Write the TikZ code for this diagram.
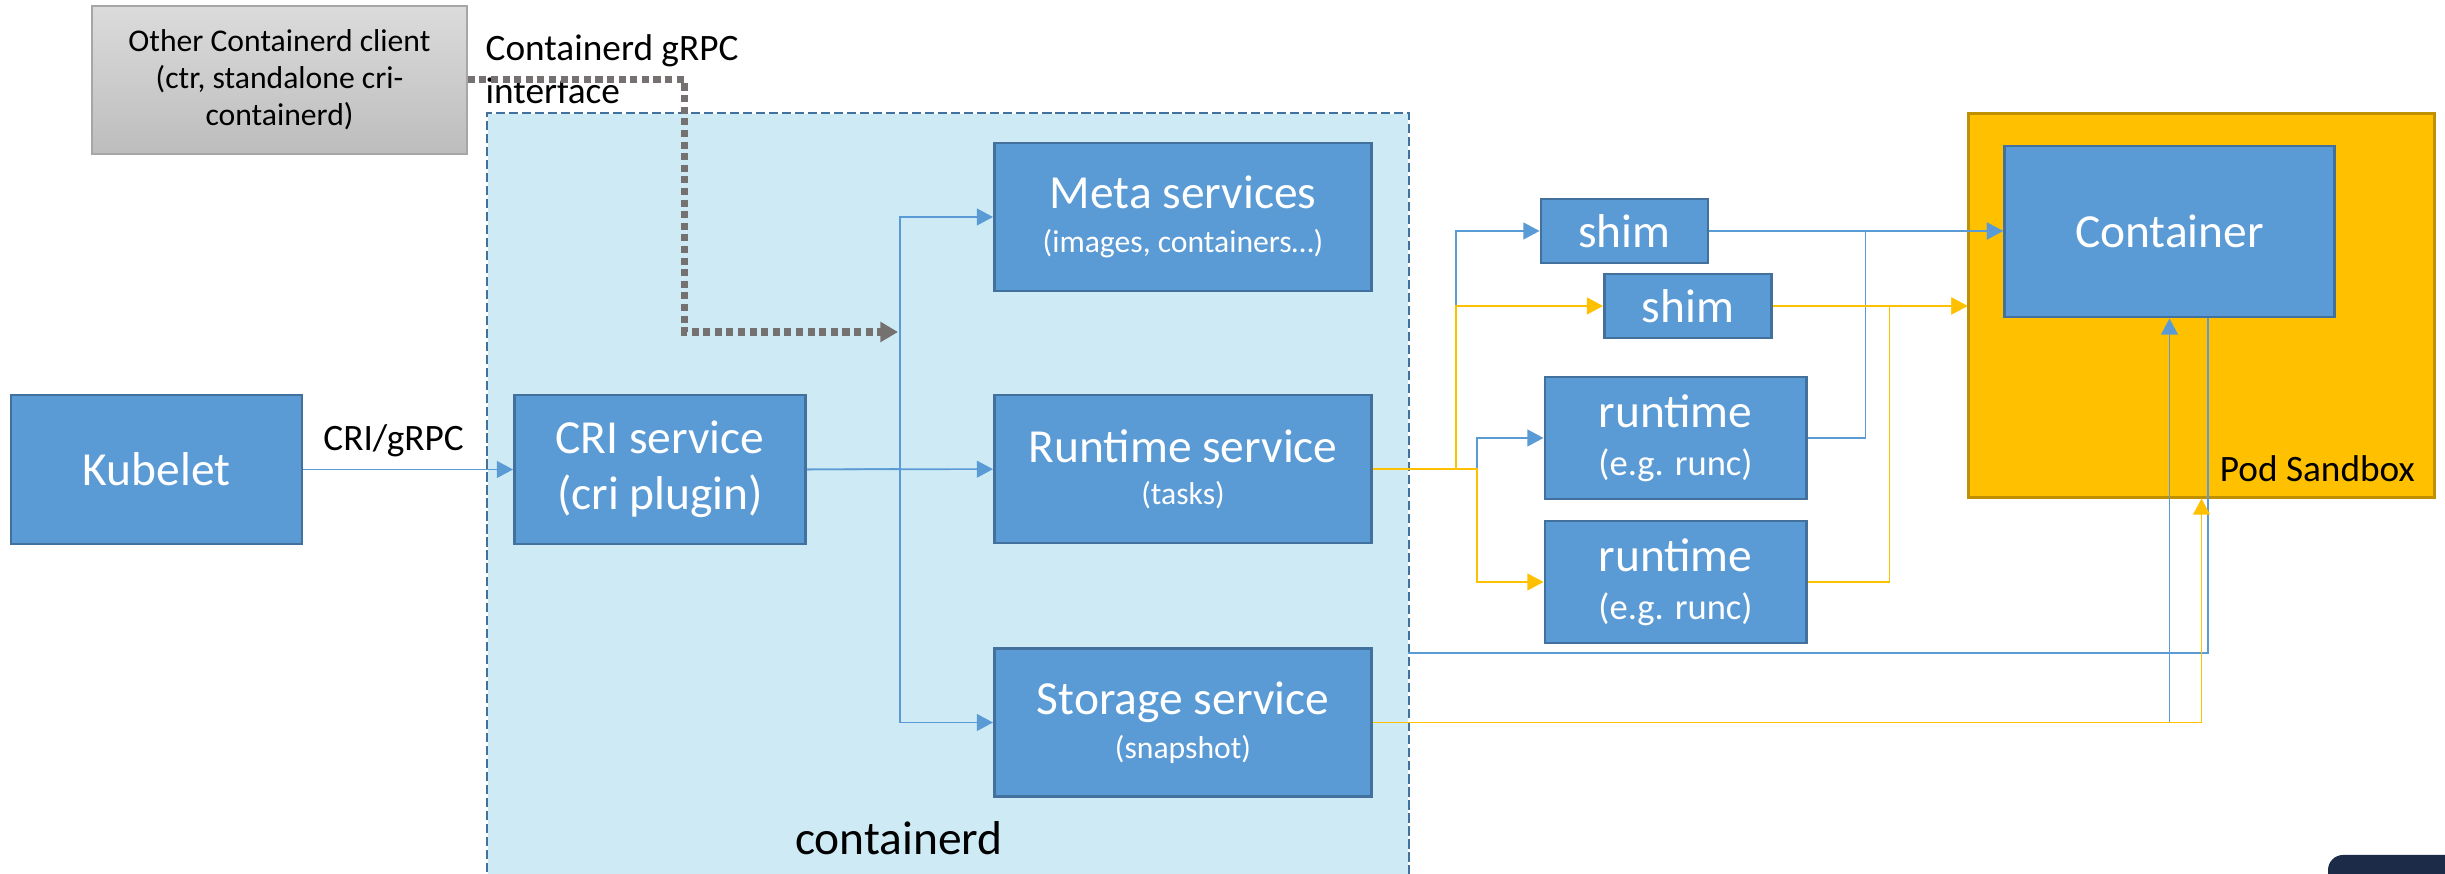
\documentclass[tikz,border=0pt]{standalone}
\usepackage{fontspec}
\setmainfont{Carlito}
\usepackage{tikz}
\usetikzlibrary{arrows.meta, calc, positioning}
\definecolor{boxblue}{HTML}{5B9BD5}
\definecolor{boxedge}{HTML}{41719C}
\definecolor{linkblue}{HTML}{5B9BD5}
\definecolor{linkyellow}{HTML}{FFC000}
\definecolor{sandboxedge}{HTML}{BF9000}
\definecolor{containerdfill}{RGB}{206,234,245}
\definecolor{grpcgray}{HTML}{767171}
\definecolor{cornerdark}{HTML}{1B2B48}
\newcommand{\boxfont}{\fontsize{13.5}{16}\selectfont}
\newcommand{\subfont}{\fontsize{9}{11}\selectfont}
\newcommand{\runcfont}{\fontsize{10.4}{12}\selectfont}
\newcommand{\notefont}{\fontsize{10.6}{12.5}\selectfont}
\newcommand{\clientfont}{\fontsize{9}{10.5}\selectfont}
\tikzstyle{servicebox} = [rectangle, draw=boxedge, fill=boxblue, line width=0.8pt, text=white, align=center, font=\boxfont, inner sep=0pt]
\tikzstyle{corebox} = [servicebox, minimum width=3.77cm, minimum height=1.48cm]
\tikzstyle{edgebox} = [servicebox, minimum width=2.91cm, minimum height=1.49cm]
\tikzstyle{shimbox} = [servicebox, minimum width=1.67cm, minimum height=0.64cm]
\tikzstyle{runcbox} = [servicebox, minimum width=2.61cm, minimum height=1.22cm]
\tikzstyle{sandbox} = [rectangle, draw=sandboxedge, fill=linkyellow, line width=0.8pt]
\tikzstyle{clientbox} = [rectangle, draw=black!35, top color=black!14, bottom color=black!26, line width=0.4pt, align=center, font=\clientfont]
\tikzstyle{bluearrow} = [-{Triangle[length=4.6pt,width=4.8pt]}, draw=linkblue, line width=0.45pt]
\tikzstyle{yellowarrow} = [-{Triangle[length=4.6pt,width=4.8pt]}, draw=linkyellow, line width=0.45pt]
\tikzstyle{blueline} = [draw=linkblue, line width=0.45pt]
\tikzstyle{grpcarrow} = [-{Triangle[length=5pt,width=5.5pt]}, draw=grpcgray, line width=2pt, dash pattern=on 2pt off 1.3pt]

\begin{document}
\begin{tikzpicture}[x=0.01cm, y=-0.01cm]
	\useasboundingbox (0,0) rectangle (2445,874);
	\clip (0,0) rectangle (2445,874);
	% containerd area, open at the bottom
	\node (containerd_box) [rectangle, fill=containerdfill, minimum width=9.2cm, minimum height=7.7cm, inner sep=0pt] at (948,499) {};
	\draw [draw=boxedge, line width=0.7pt, dash pattern=on 2.6pt off 1.1pt] (containerd_box.south west) |- (containerd_box.north east) -- (containerd_box.south east);
	\node (containerd_label) [anchor=base, font=\boxfont, inner sep=0pt] at (899,855) {containerd};
	\node (pod_sandbox) [sandbox, minimum width=4.65cm, minimum height=3.83cm] at (2201.5,305.5) {};
	\node (sandbox_label) [anchor=base east, font=\notefont, inner sep=0pt] at ([xshift=-0.2cm, yshift=0.17cm]pod_sandbox.south east) {Pod Sandbox};

	\node (other_client) [clientbox, minimum width=3.75cm, minimum height=1.48cm] at (279.5,80) {Other Containerd client\\(ctr, standalone cri-\\containerd)};
	\node (grpc_label) [anchor=base west, align=left, font=\notefont, inner sep=0pt] at (485,104) {Containerd gRPC\\interface};

	\node (kubelet) [edgebox] at (156.5,469.5) {Kubelet};
	\node (cri_service) [edgebox] at (660,469.5) {CRI service\\(cri plugin)};
	\node (meta_services) [corebox] at (1183,217) {Meta services\\[-3.5pt]{\subfont (images, containers…)}};
	\node (runtime_service) [corebox] at (1183,469) {Runtime service\\[-4pt]{\subfont (tasks)}};
	\node (storage_service) [corebox] at (1183,722.5) {Storage service\\[-3.5pt]{\subfont (snapshot)}};
	\node (shim_a) [shimbox] at (1624.5,231) {shim};
	\node (shim_b) [shimbox] at (1688,306) {shim};
	\node (runtime_a) [runcbox] at (1675.5,438) {runtime\\[-2.3pt]{\runcfont (e.g. runc)}};
	\node (runtime_b) [runcbox] at (1675.5,582) {runtime\\[-2.3pt]{\runcfont (e.g. runc)}};
	\node (container) [servicebox, minimum width=3.3cm, minimum height=1.71cm] at (2169.5,231.5) {Container};

	\coordinate (service_fork) at (900,469);
	\coordinate (shim_fork) at (1456,469);
	\coordinate (runtime_fork) at (1477,469);
	\coordinate (grpc_in) at (898,332);
	\coordinate (containerd_exit) at (1408,653);

	\draw [bluearrow] (kubelet) -- node [pos=0.43, above=0.12cm, inner sep=0pt, font=\notefont] {CRI/gRPC} (cri_service);
	\draw [bluearrow] (cri_service) -- (runtime_service);
	\draw [bluearrow] (cri_service.east) -- (service_fork) |- (meta_services);
	\draw [bluearrow] (service_fork) |- (storage_service);
	\draw [grpcarrow] (other_client.east) -- ++(217,0) |- (grpc_in);

	\draw [bluearrow] (runtime_service.east) -- (shim_fork) |- (shim_a);
	\draw [bluearrow] (runtime_service.east) -- (runtime_fork) |- (runtime_a);
	\draw [yellowarrow] (runtime_service.east) -- (shim_fork) |- (shim_b);
	\draw [yellowarrow] (runtime_service.east) -- (runtime_fork) |- (runtime_b);

	\draw [bluearrow] (shim_a.east) -- (shim_a.east -| container.west);
	\draw [bluearrow] (runtime_a.east) -- ++(58,0) |- (shim_a.east -| container.west);
	\draw [yellowarrow] (shim_b.east) -- (shim_b.east -| pod_sandbox.west);
	\draw [yellowarrow] (runtime_b.east) -- ++(82,0) |- (shim_b.east -| pod_sandbox.west);

	\draw [blueline] (containerd_exit) -| ([xshift=0.385cm]container.south);
	\draw [bluearrow] (storage_service.east) -| (container.south);
	\draw [yellowarrow] (storage_service.east) -| (pod_sandbox.south);

	\fill [cornerdark, rounded corners=0.15cm] (2328,855) rectangle (2480,920);
\end{tikzpicture}
\end{document}
